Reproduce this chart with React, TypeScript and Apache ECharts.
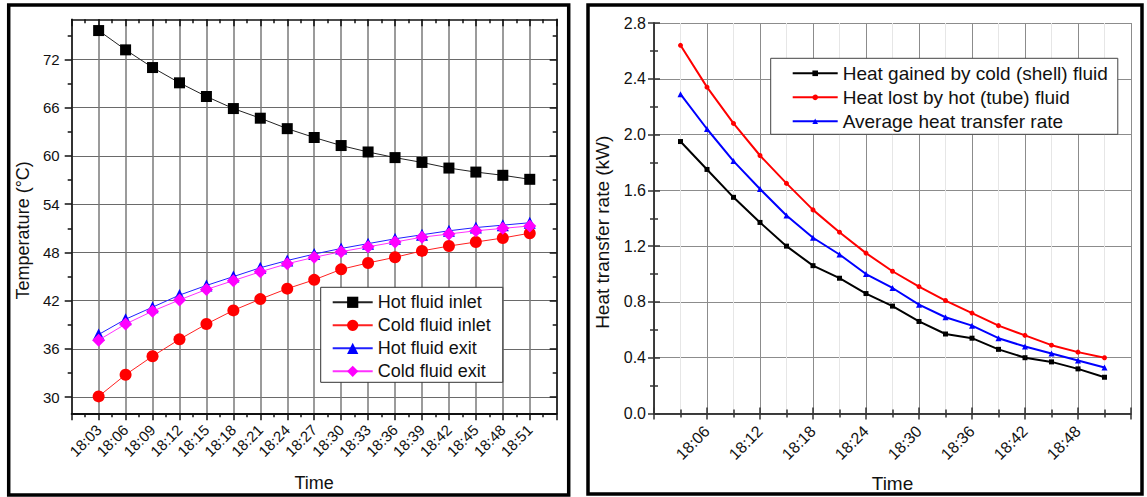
import React, { useEffect, useRef } from "react";
import * as echarts from "echarts";

const times = ["18:03", "18:06", "18:09", "18:12", "18:15", "18:18", "18:21", "18:24", "18:27", "18:30", "18:33", "18:36", "18:39", "18:42", "18:45", "18:48", "18:51"];

// Left panel: temperatures (°C)
const hotInlet = [75.6, 73.2, 71.0, 69.1, 67.4, 65.9, 64.7, 63.4, 62.3, 61.3, 60.5, 59.8, 59.2, 58.5, 58.0, 57.6, 57.1];
const coldInlet = [30.1, 32.8, 35.1, 37.2, 39.1, 40.8, 42.2, 43.5, 44.6, 45.9, 46.7, 47.4, 48.2, 48.8, 49.3, 49.8, 50.4];
const hotExit = [37.8, 39.7, 41.2, 42.7, 43.9, 45.0, 46.1, 47.0, 47.8, 48.5, 49.1, 49.7, 50.2, 50.7, 51.1, 51.4, 51.7];
const coldExit = [37.1, 39.1, 40.7, 42.1, 43.4, 44.5, 45.6, 46.6, 47.4, 48.1, 48.7, 49.3, 49.9, 50.3, 50.7, 51.0, 51.3];
const tempTicks = [30, 36, 42, 48, 54, 60, 66, 72];
const tempMin = 28;
const tempMax = 77;

// Right panel: heat transfer rate (kW)
const heatGained = [1.95, 1.75, 1.55, 1.37, 1.2, 1.06, 0.97, 0.86, 0.77, 0.66, 0.57, 0.54, 0.46, 0.4, 0.37, 0.32, 0.26];
const heatLost = [2.64, 2.34, 2.08, 1.85, 1.65, 1.46, 1.3, 1.15, 1.02, 0.91, 0.81, 0.72, 0.63, 0.56, 0.49, 0.44, 0.4];
const heatAvg = [2.29, 2.04, 1.81, 1.61, 1.42, 1.26, 1.14, 1.0, 0.9, 0.78, 0.69, 0.63, 0.54, 0.48, 0.43, 0.38, 0.33];

const FONT = "'Liberation Sans', Arial, Helvetica, sans-serif";

const minutes = times.map((t) => Number(t.split(":")[1]));
const pairs = (vals: number[]) => vals.map((v, i) => [minutes[i], v]);
const timeLabel = (v: number) => {
  const i = minutes.indexOf(v);
  return i >= 0 ? times[i] : "";
};

export default function App() {
  const ref = useRef<HTMLDivElement>(null);

  useEffect(() => {
    document.body.style.margin = "0";
    if (!ref.current) return;
    const chart = echarts.init(ref.current, undefined, { renderer: "svg" });

    const hiddenAxisParts = {
      axisLabel: { show: false },
      splitLine: { show: false },
    };

    const option: any = {
      animation: false,
      backgroundColor: "#ffffff",
      textStyle: { fontFamily: FONT, color: "#111" },
      grid: [
        { left: 71.7, top: 19.3, width: 485, height: 394, outerBoundsMode: "none", containLabel: false },
        { left: 654, top: 23, width: 477, height: 390.5, outerBoundsMode: "none", containLabel: false },
      ],
      xAxis: [
        {
          gridIndex: 0,
          type: "value",
          position: "bottom",
          min: 0,
          max: 54,
          interval: 3,
          name: "Time",
          nameLocation: "middle",
          nameGap: 61,
          nameTextStyle: { fontSize: 18, color: "#111", fontFamily: FONT },
          axisLine: { lineStyle: { color: "#111", width: 2 } },
          axisTick: { show: true, inside: false, length: 7, lineStyle: { color: "#111", width: 1.5 } },
          minorTick: { show: true, splitNumber: 2, length: 4, lineStyle: { color: "#111", width: 1.5 } },
          axisLabel: {
            show: true,
            rotate: 45,
            margin: 14,
            fontSize: 15,
            color: "#111",
            fontFamily: FONT,
            formatter: (v: number) => timeLabel(v),
          },
          splitLine: { show: true, lineStyle: { color: "#7a7a7a", width: 1.5 } },
        },
        {
          gridIndex: 0,
          type: "value",
          position: "top",
          min: 0,
          max: 54,
          interval: 3,
          axisLine: { lineStyle: { color: "#111", width: 1.5 } },
          axisTick: { show: true, inside: true, length: 7, lineStyle: { color: "#111", width: 1.5 } },
          minorTick: { show: true, splitNumber: 2, length: 4, lineStyle: { color: "#111", width: 1.5 } },
          ...hiddenAxisParts,
        },
        {
          gridIndex: 1,
          type: "value",
          position: "bottom",
          min: 0,
          max: 54,
          interval: 6,
          name: "Time",
          nameLocation: "middle",
          nameGap: 60,
          nameTextStyle: { fontSize: 19, color: "#111", fontFamily: FONT },
          axisLine: { lineStyle: { color: "#333", width: 1.5 } },
          axisTick: { show: true, inside: true, length: 6, lineStyle: { color: "#333", width: 1.5 } },
          minorTick: { show: true, splitNumber: 2, length: 4, lineStyle: { color: "#333", width: 1.5 } },
          axisLabel: {
            show: true,
            rotate: 45,
            margin: 15,
            fontSize: 16,
            color: "#111",
            fontFamily: FONT,
            formatter: (v: number) => timeLabel(v),
          },
          splitLine: { show: true, lineStyle: { color: "#8c8c8c", width: 1 } },
          minorSplitLine: { show: true, lineStyle: { color: "#e6e6e6", width: 1 } },
        },
        {
          gridIndex: 1,
          type: "value",
          position: "top",
          min: 0,
          max: 54,
          interval: 6,
          axisLine: { lineStyle: { color: "#333", width: 1.5 } },
          axisTick: { show: true, inside: true, length: 6, lineStyle: { color: "#333", width: 1.5 } },
          minorTick: { show: true, splitNumber: 2, length: 4, lineStyle: { color: "#333", width: 1.5 } },
          ...hiddenAxisParts,
        },
      ],
      yAxis: [
        {
          gridIndex: 0,
          type: "value",
          position: "left",
          min: tempMin,
          max: tempMax,
          name: "Temperature (°C)",
          nameLocation: "middle",
          nameGap: 40,
          nameTextStyle: { fontSize: 18, color: "#111", fontFamily: FONT, padding: [0, 28, 0, 0] },
          axisLine: { show: true, lineStyle: { color: "#111", width: 1.5 } },
          axisTick: { show: true, inside: false, length: 7, customValues: tempTicks, lineStyle: { color: "#111", width: 1.5 } },
          axisLabel: { show: true, margin: 12, fontSize: 15, color: "#111", fontFamily: FONT, customValues: tempTicks },
          splitLine: { show: true, lineStyle: { color: "#6a6a6a", width: 1 } },
        },
        {
          gridIndex: 0,
          type: "value",
          position: "left",
          min: tempMin,
          max: tempMax,
          axisLine: { show: false },
          axisTick: { show: true, inside: false, length: 4, customValues: tempTicks.map((v) => v + 3), lineStyle: { color: "#111", width: 1.5 } },
          ...hiddenAxisParts,
        },
        {
          gridIndex: 0,
          type: "value",
          position: "right",
          min: tempMin,
          max: tempMax,
          axisLine: { show: true, lineStyle: { color: "#111", width: 1.5 } },
          axisTick: { show: true, inside: true, length: 7, customValues: tempTicks, lineStyle: { color: "#111", width: 1.5 } },
          ...hiddenAxisParts,
        },
        {
          gridIndex: 0,
          type: "value",
          position: "right",
          min: tempMin,
          max: tempMax,
          axisLine: { show: false },
          axisTick: { show: true, inside: true, length: 4, customValues: tempTicks.map((v) => v + 3), lineStyle: { color: "#111", width: 1.5 } },
          ...hiddenAxisParts,
        },
        {
          gridIndex: 1,
          type: "value",
          position: "left",
          min: 0,
          max: 2.8,
          interval: 0.4,
          name: "Heat transfer rate (kW)",
          nameLocation: "middle",
          nameGap: 42,
          nameTextStyle: { fontSize: 19, color: "#111", fontFamily: FONT, padding: [0, 28, 0, 0] },
          axisLine: { show: true, lineStyle: { color: "#333", width: 1.5 } },
          axisTick: { show: true, inside: true, length: 6, lineStyle: { color: "#333", width: 1.5 } },
          minorTick: { show: true, splitNumber: 2, length: 4, lineStyle: { color: "#333", width: 1.5 } },
          axisLabel: { show: true, margin: 8, fontSize: 16, color: "#111", fontFamily: FONT, formatter: (v: number) => v.toFixed(1) },
          splitLine: { show: true, lineStyle: { color: "#8c8c8c", width: 1 } },
        },
        {
          gridIndex: 1,
          type: "value",
          position: "right",
          min: 0,
          max: 2.8,
          interval: 0.4,
          axisLine: { show: true, lineStyle: { color: "#333", width: 1.5 } },
          axisTick: { show: true, inside: true, length: 6, lineStyle: { color: "#333", width: 1.5 } },
          minorTick: { show: true, splitNumber: 2, length: 4, lineStyle: { color: "#333", width: 1.5 } },
          ...hiddenAxisParts,
        },
      ],
      legend: [
        {
          orient: "vertical",
          left: 320.7,
          top: 287.3,
          backgroundColor: "#ffffff",
          borderColor: "#333",
          borderWidth: 1,
          borderRadius: 0,
          padding: [5, 12, 1, 11],
          itemWidth: 40,
          itemHeight: 14,
          itemGap: 3,
          textStyle: { fontSize: 18, lineHeight: 20, color: "#111", fontFamily: FONT },
          data: ["Hot fluid inlet", "Cold fluid inlet", "Hot fluid exit", "Cold fluid exit"],
        },
        {
          orient: "vertical",
          left: 770.7,
          top: 58.3,
          backgroundColor: "#ffffff",
          borderColor: "#444",
          borderWidth: 1,
          borderRadius: 0,
          padding: [4, 10, 2, 21],
          itemWidth: 45,
          itemHeight: 7,
          itemGap: 2,
          textStyle: { fontSize: 19, lineHeight: 22, color: "#111", fontFamily: FONT },
          data: ["Heat gained by cold (shell) fluid", "Heat lost by hot (tube) fluid", "Average heat transfer rate"],
        },
      ],
      series: [
        {
          name: "Hot fluid inlet",
          type: "line",
          xAxisIndex: 0,
          yAxisIndex: 0,
          data: pairs(hotInlet),
          symbol: "rect",
          symbolSize: 11,
          itemStyle: { color: "#000" },
          lineStyle: { color: "#222", width: 1 },
          z: 5,
        },
        {
          name: "Cold fluid inlet",
          type: "line",
          xAxisIndex: 0,
          yAxisIndex: 0,
          data: pairs(coldInlet),
          symbol: "circle",
          symbolSize: 12,
          itemStyle: { color: "#ff0000" },
          lineStyle: { color: "#ff2020", width: 1 },
          z: 5,
        },
        {
          name: "Hot fluid exit",
          type: "line",
          xAxisIndex: 0,
          yAxisIndex: 0,
          data: pairs(hotExit),
          symbol: "triangle",
          symbolSize: 12,
          itemStyle: { color: "#0000ff" },
          lineStyle: { color: "#2020ff", width: 1 },
          z: 5,
        },
        {
          name: "Cold fluid exit",
          type: "line",
          xAxisIndex: 0,
          yAxisIndex: 0,
          data: pairs(coldExit),
          symbol: "diamond",
          symbolSize: 13,
          itemStyle: { color: "#ff00ff" },
          lineStyle: { color: "#ff30ff", width: 1 },
          z: 6,
        },
        {
          name: "Heat gained by cold (shell) fluid",
          type: "line",
          xAxisIndex: 2,
          yAxisIndex: 4,
          data: pairs(heatGained),
          symbol: "rect",
          symbolSize: 5,
          itemStyle: { color: "#000" },
          lineStyle: { color: "#000", width: 2 },
          z: 5,
        },
        {
          name: "Heat lost by hot (tube) fluid",
          type: "line",
          xAxisIndex: 2,
          yAxisIndex: 4,
          data: pairs(heatLost),
          symbol: "circle",
          symbolSize: 5,
          itemStyle: { color: "#ff0000" },
          lineStyle: { color: "#ff0000", width: 2 },
          z: 5,
        },
        {
          name: "Average heat transfer rate",
          type: "line",
          xAxisIndex: 2,
          yAxisIndex: 4,
          data: pairs(heatAvg),
          symbol: "triangle",
          symbolSize: 6,
          itemStyle: { color: "#0000ff" },
          lineStyle: { color: "#0000ff", width: 2 },
          z: 5,
        },
      ],
      graphic: [
        {
          type: "rect",
          shape: { x: 8.7, y: 5, width: 560, height: 490 },
          style: { fill: "none", stroke: "#000", lineWidth: 3.5 },
          silent: true,
          z: 100,
        },
        {
          type: "rect",
          shape: { x: 588, y: 5, width: 554, height: 489 },
          style: { fill: "none", stroke: "#000", lineWidth: 3.5 },
          silent: true,
          z: 100,
        },
      ],
    };

    chart.setOption(option);
    return () => chart.dispose();
  }, []);

  return <div ref={ref} style={{ width: 1147, height: 497 }} />;
}
